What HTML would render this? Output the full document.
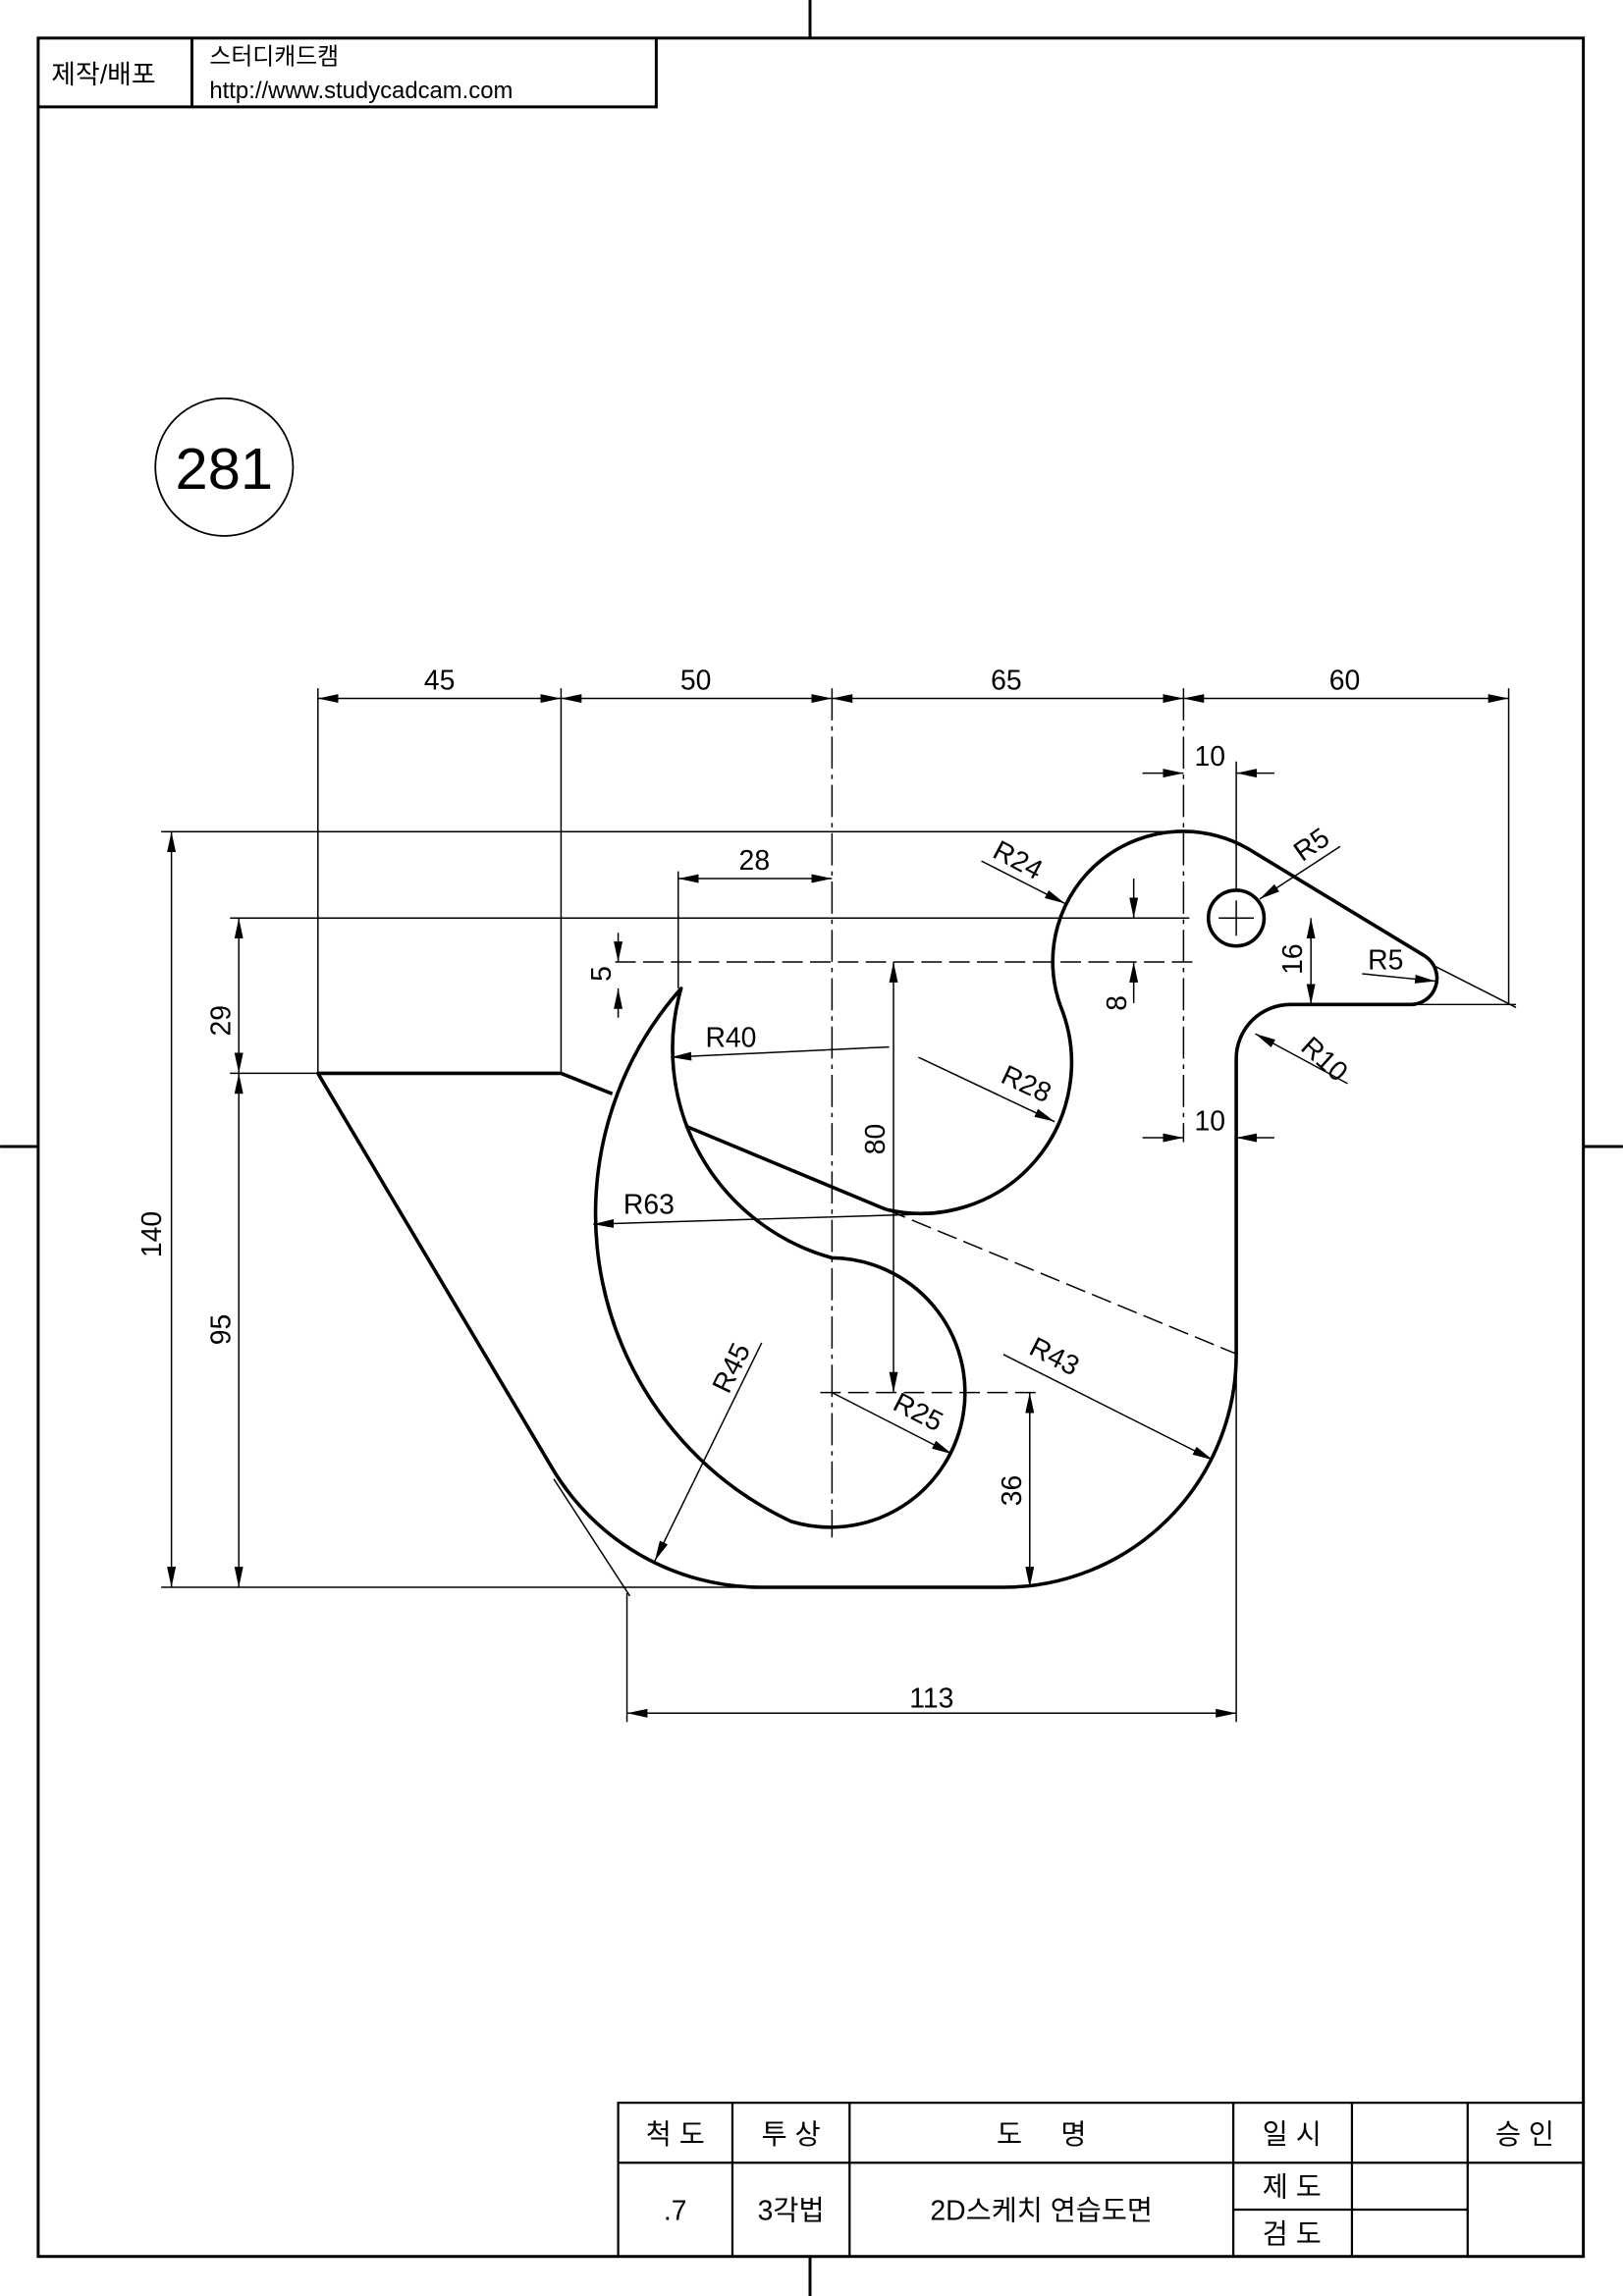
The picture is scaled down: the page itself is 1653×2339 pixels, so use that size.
<!DOCTYPE html>
<html><head><meta charset="utf-8"><style>html,body{margin:0;padding:0;background:#fff}svg{display:block}</style></head>
<body>
<svg width="1653" height="2339" viewBox="0 0 1108 1568" xmlns="http://www.w3.org/2000/svg" font-family="'Liberation Sans','Noto Sans CJK KR',sans-serif">
<defs>
<marker id="a" viewBox="0 0 14 6" refX="14" refY="3" markerWidth="14" markerHeight="6" markerUnits="userSpaceOnUse" orient="auto-start-reverse"><path d="M0,0L14,3L0,6z" fill="#000"/></marker>
</defs>
<rect width="1108" height="1568" fill="#fff"/>
<g stroke="#000" fill="none">
<rect x="26" y="26" width="1055" height="1515" stroke-width="2"/>
<path d="M553,0V26M553,1541V1568M0,783H26M1081,783H1108" stroke-width="2"/>
<path d="M26,73H448V26M131,26V73" stroke-width="2"/>
<circle cx="153" cy="319" r="47" stroke-width="1.2"/>
<path d="M422,1541V1436H1081M422,1477H1081M500,1436V1541M580,1436V1541M842,1436V1541M923,1436V1541M1002,1436V1541M842,1509H1002" stroke-width="1.5"/>
</g>
<g font-size="18">
<text x="35" y="57">제작/배포</text>
<text x="143" y="44" font-size="16">스터디캐드캠</text>
<text x="143" y="67" font-size="16">http://www.studycadcam.com</text>
</g>
<text x="153" y="334" font-size="40" text-anchor="middle">281</text>
<g font-size="19" text-anchor="middle">
<text x="461" y="1464">척 도</text><text x="540" y="1464">투 상</text><text x="711" y="1464">도 &#160; &#160; 명</text><text x="882" y="1464">일 시</text><text x="1041" y="1464">승 인</text>
<text x="461" y="1516">.7</text><text x="540" y="1516">3각법</text><text x="711" y="1516">2D스케치 연습도면</text><text x="882" y="1500">제 도</text><text x="882" y="1532">검 도</text>
</g>
<g stroke="#000" fill="none" stroke-width="2.4" stroke-linejoin="round">
<path d="M465,675 A232,232 0 0 0 540,1039 A92,92 0 1 0 568,859 A148,148 0 0 1 465,675 Z"/>
<path d="M605,826 A103,103 0 0 0 724,687 A89,89 0 0 1 856,582 L973,653 A18,18 0 0 1 963,686 L881,686 A37,37 0 0 0 844,723 L844,925 A159,159 0 0 1 685,1084 L520,1084 A166,166 0 0 1 376,1001 L217,733 L383,733 L418,747"/>
<path d="M468,769 L605,826"/>
<circle cx="844" cy="627" r="19"/>
</g>
<g stroke="#000" fill="none" stroke-width="1">
<path d="M832,627H856M844,615V639"/>
<path d="M568,470V1050M808,470V780" stroke-dasharray="22,4,3,4"/>
<path d="M420,657H815M605,826L845,925M560,951H708" stroke-dasharray="14,5"/>
<path d="M157,627H812" />
<path d="M110,568H808M157,733H217M110,1084H520M217,470V733M383,470V733M1030,470V686M378,1010L430,1090M428,1088V1176M844,723V1176M980,660L1035,688M963,686H1035M463,595V675M844,520V608"/>
<g marker-start="url(#a)" marker-end="url(#a)">
<path d="M217,477H383"/><path d="M383,477H568"/><path d="M568,477H808"/><path d="M808,477H1030"/>
<path d="M463,600H568"/>
<path d="M163,627V733"/><path d="M163,733V1084"/><path d="M117,568V1084"/>
<path d="M610,657V951"/><path d="M703,951V1084"/><path d="M895,627V686"/>
<path d="M428,1170H844"/>
</g>
<g marker-end="url(#a)">
<path d="M780,528H808"/><path d="M870,528H844"/><path d="M780,777H808"/><path d="M870,777H844"/>
<path d="M422,637V657"/><path d="M422,695V675"/><path d="M774,600V627"/><path d="M774,685V657"/>
<path d="M670,588L727,617"/><path d="M915,578L860,614"/><path d="M930,665L980,670"/><path d="M920,740L857,706"/>
<path d="M627,722L720,766"/><path d="M607,715L458,722"/><path d="M637,829L405,836"/><path d="M520,917L447,1066"/><path d="M568,951L650,993"/><path d="M685,925L828,997"/>
</g>
</g>
<g font-size="19" text-anchor="middle">
<text x="300" y="471">45</text><text x="475" y="471">50</text><text x="687" y="471">65</text><text x="918" y="471">60</text>
<text x="826" y="523">10</text><text x="515" y="594">28</text><text x="826" y="772">10</text><text x="636" y="1166">113</text>
<text x="499" y="715">R40</text><text x="443" y="829">R63</text><text x="946" y="662">R5</text>
<text transform="translate(417,665) rotate(-90)">5</text>
<text transform="translate(157,697) rotate(-90)">29</text>
<text transform="translate(157,908) rotate(-90)">95</text>
<text transform="translate(110,843) rotate(-90)">140</text>
<text transform="translate(604,778) rotate(-90)">80</text>
<text transform="translate(697,1018) rotate(-90)">36</text>
<text transform="translate(769,685) rotate(-90)">8</text>
<text transform="translate(889,655) rotate(-90)">16</text>
<text transform="translate(692,593) rotate(28)">R24</text>
<text transform="translate(899,582) rotate(-35)">R5</text>
<text transform="translate(900,728) rotate(42)">R10</text>
<text transform="translate(698,746) rotate(25)">R28</text>
<text transform="translate(505,937) rotate(-64)">R45</text>
<text transform="translate(624,970) rotate(27)">R25</text>
<text transform="translate(717,932) rotate(27)">R43</text>
</g>
</svg>
</body></html>
